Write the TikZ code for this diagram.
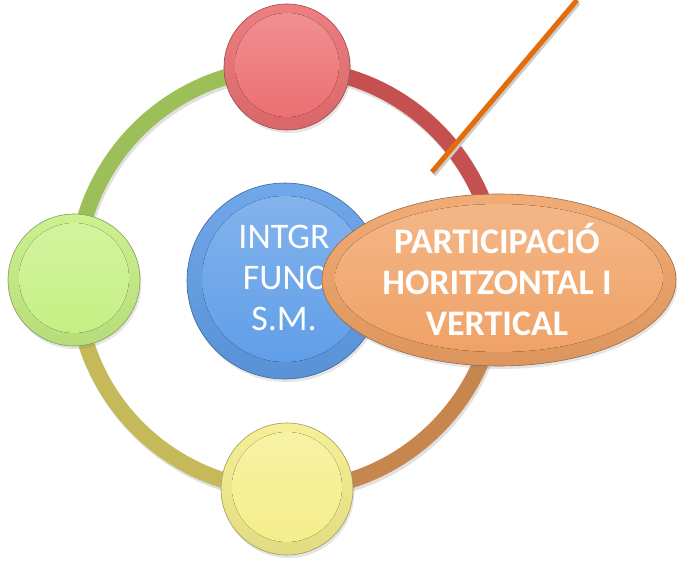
\documentclass[tikz,border=0pt]{standalone}
\usepackage{fontspec}
\setmainfont{Carlito}
\usetikzlibrary{shapes.geometric,shadows}

\definecolor{ringred}{HTML}{C4504F}
\definecolor{ringbrown}{HTML}{C8864F}
\definecolor{ringolive}{HTML}{C6B95A}
\definecolor{ringgreen}{HTML}{9CBF5A}
\definecolor{beadred}{HTML}{EC7072}
\definecolor{beadgreen}{HTML}{C6F084}
\definecolor{beadyellow}{HTML}{F5EE8C}
\definecolor{beadblue}{HTML}{609EE8}
\definecolor{ovalorange}{HTML}{F0A266}
\definecolor{callout}{HTML}{E46C0A}

\tikzset{
  bead/.style={circle,inner sep=0pt,draw=#1!65!black,line width=0.6pt,
    top color=#1!90!white,bottom color=#1!92!black,
    drop shadow={opacity=0.2,shadow xshift=1.5pt,shadow yshift=-3pt}},
  glint/.style={top color=#1!78!white,bottom color=#1},
  ringpart/.style={line width=16pt,#1},
  ringtext/.style={text=white,font=\fontsize{36}{41}\selectfont,align=center}
}

\begin{document}
\begin{tikzpicture}[x=1pt,y=1pt]
        \useasboundingbox[fill=white] (0,0) rectangle (677,566);
        % ring
        \coordinate (ring) at (287,287);
        \draw[ringpart=black!12] ([shift={(1.5,-3)}]ring) circle (211);
        \draw[ringpart=ringred] (ring) ++(90:211) arc[start angle=90,end angle=0,radius=211];
        \draw[ringpart=ringbrown] (ring) ++(0:211) arc[start angle=0,end angle=-90,radius=211];
        \draw[ringpart=ringolive] (ring) ++(-90:211) arc[start angle=-90,end angle=-180,radius=211];
        \draw[ringpart=ringgreen] (ring) ++(180:211) arc[start angle=180,end angle=90,radius=211];
        % beads on the ring
        \node[bead=beadred,minimum size=126pt](top)at(287,499){};
        \fill[glint=beadred] ([yshift=2pt]top.center) circle (52);
        \node[bead=beadgreen,minimum size=132pt](left)at(74,286){};
        \fill[glint=beadgreen] ([yshift=2pt]left.center) circle (55);
        \node[bead=beadyellow,minimum size=132pt](bottom)at(287,77){};
        \fill[glint=beadyellow] ([yshift=2pt]bottom.center) circle (55);
        % centre
        \node[bead=beadblue,minimum size=196pt](hub)at(285,285){};
        \fill[glint=beadblue] ([yshift=2pt]hub.center) circle (83);
        \node[ringtext](hubtext)at(284,288){INTGR\\FUNC\\S.M.};
        % callout line
        \coordinate (tip) at (432,394);
        \coordinate (far) at (577,566);
        \draw[black!20,line width=5pt] ([shift={(1.5,-2.5)}]tip)--([shift={(1.5,-2.5)}]far);
        \draw[callout,line width=5pt] (tip)--(far);
        % oval
        \node[bead=ovalorange,ellipse,minimum width=354pt,minimum height=172pt](oval)at(499,286){};
        \fill[glint=ovalorange] ([yshift=2pt]oval.center) ellipse [x radius=164,y radius=74];
        \node[ringtext,font=\fontsize{36}{41}\selectfont\bfseries](ovaltext)at(497,286){PARTICIPACIÓ\\HORITZONTAL I\\VERTICAL};
    \end{tikzpicture}
\end{document}
